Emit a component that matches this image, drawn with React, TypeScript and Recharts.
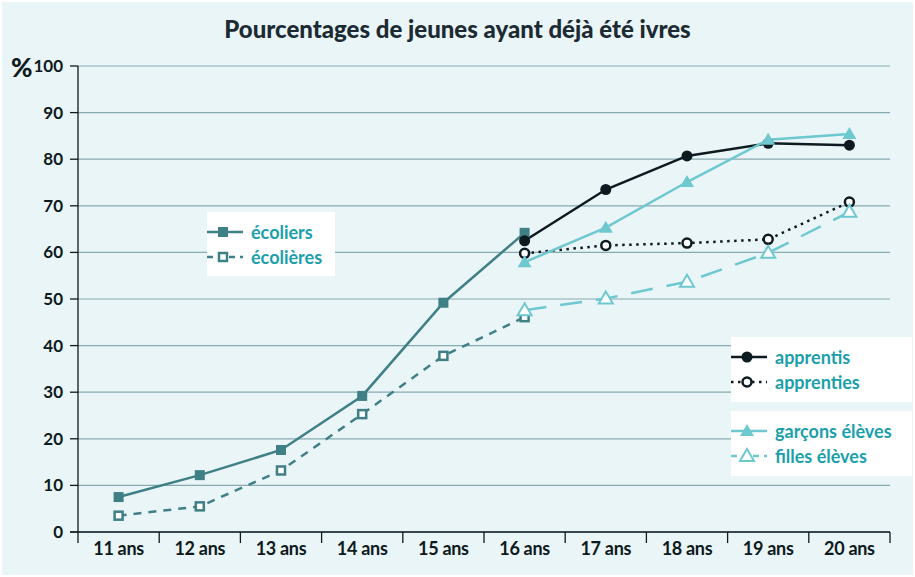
import { LineChart, Line, XAxis, YAxis, CartesianGrid } from "recharts";

const ages = ["11 ans", "12 ans", "13 ans", "14 ans", "15 ans", "16 ans", "17 ans", "18 ans", "19 ans", "20 ans"];
const ecoliers = [7.5, 12.2, 17.6, 29.2, 49.2, 64.2, null, null, null, null];
const ecolieres = [3.5, 5.5, 13.2, 25.3, 37.8, 46.1, null, null, null, null];
const apprentis = [null, null, null, null, null, 62.5, 73.5, 80.7, 83.4, 83.0];
const apprenties = [null, null, null, null, null, 59.8, 61.5, 62.0, 62.8, 70.8];
const garconsEleves = [null, null, null, null, null, 57.9, 65.3, 75.1, 84.2, 85.4];
const fillesEleves = [null, null, null, null, null, 47.6, 50.1, 53.7, 59.9, 68.7];
const yTicks = [0, 10, 20, 30, 40, 50, 60, 70, 80, 90, 100];

const data = ages.map((age, i) => ({
  x: i + 0.5,
  age,
  ecoliers: ecoliers[i],
  ecolieres: ecolieres[i],
  apprentis: apprentis[i],
  apprenties: apprenties[i],
  garcons: garconsEleves[i],
  filles: fillesEleves[i],
}));

const xTicks = ages.flatMap((_, i) => [i, i + 0.5]).concat([ages.length]);

const TEAL = "#3f7f86";
const DARK = "#0d1a20";
const CYAN = "#6ec8d0";
const TEXT = "#1a9fab";
const FONT = "Lato, 'Open Sans', sans-serif";

type Kind = "sq" | "sqo" | "ci" | "cio" | "tri" | "trio";

function Marker({ cx, cy, kind }: { cx: number; cy: number; kind: Kind }) {
  if (kind === "sq") return <rect x={cx - 5} y={cy - 5} width={10} height={10} fill={TEAL} />;
  if (kind === "sqo")
    return <rect x={cx - 4} y={cy - 4} width={8} height={8} fill="#fff" stroke={TEAL} strokeWidth={2.5} />;
  if (kind === "ci") return <circle cx={cx} cy={cy} r={5.5} fill={DARK} />;
  if (kind === "cio") return <circle cx={cx} cy={cy} r={4.5} fill="#fff" stroke={DARK} strokeWidth={2.5} />;
  const pts = `${cx},${cy - 7} ${cx - 7},${cy + 5} ${cx + 7},${cy + 5}`;
  if (kind === "tri") return <polygon points={pts} fill={CYAN} />;
  return <polygon points={pts} fill="#fff" stroke={CYAN} strokeWidth={2} />;
}

const dotFor = (kind: Kind) => (props: any) => {
  const { cx, cy, value, index } = props;
  if (cy == null || value == null || isNaN(cy)) return <g key={`n-${kind}-${index}`} />;
  return (
    <g key={`d-${kind}-${index}`}>
      <Marker cx={cx} cy={cy} kind={kind} />
    </g>
  );
};

function XTick(props: any) {
  const { x, y, payload } = props;
  const v = payload.value as number;
  if (Number.isInteger(v)) {
    return (
      <g>
        <line x1={x} y1={y} x2={x} y2={y + 11} stroke={DARK} strokeWidth={1.3} />
        {v === 0 && <line x1={x - 8} y1={y} x2={x} y2={y} stroke={DARK} strokeWidth={1.3} />}
      </g>
    );
  }
  return (
    <text x={x} y={y + 23} textAnchor="middle" fontSize={18} fontWeight={700} fill={DARK} fontFamily={FONT} letterSpacing={-0.3}>
      {ages[Math.floor(v)]}
    </text>
  );
}

function LegendRow({ label, color, dash, kind, width = 2.5 }: { label: string; color: string; dash?: string; kind: Kind; width?: number }) {
  return (
    <div style={{ display: "flex", alignItems: "center", height: 25 }}>
      <svg width={36} height={20} style={{ flex: "none" }}>
        <line x1={0} y1={10} x2={36} y2={10} stroke={color} strokeWidth={width} strokeDasharray={dash} />
        <Marker cx={16} cy={10} kind={kind} />
      </svg>
      <span style={{ marginLeft: 8, color: TEXT, fontWeight: 700, fontSize: 18, fontFamily: FONT, whiteSpace: "nowrap" }}>{label}</span>
    </div>
  );
}

export default function App() {
  return (
    <div style={{ position: "absolute", left: 0, top: 0, width: 915, height: 577, background: "#fff" }}>
      <div style={{ position: "absolute", left: 2, top: 2, width: 911, height: 573, background: "#eaf5f7" }} />
      <div
        style={{
          position: "absolute",
          left: 0,
          top: 14,
          width: 915,
          textAlign: "center",
          fontFamily: FONT,
          fontWeight: 900,
          fontSize: 24,
          color: "#1b2a33",
        }}
      >
        Pourcentages de jeunes ayant déjà été ivres
      </div>
      <div style={{ position: "absolute", left: 11, top: 51, fontFamily: FONT, fontWeight: 900, fontSize: 26, color: DARK }}>%</div>
      <div style={{ position: "absolute", left: 0, top: 0 }}>
        <LineChart width={915} height={577} data={data} margin={{ top: 66, right: 25, bottom: 5, left: 0 }}>
          <CartesianGrid vertical={false} stroke="#86abb0" strokeWidth={1.2} />
          <XAxis
            dataKey="x"
            type="number"
            domain={[0, 10]}
            ticks={xTicks}
            interval={0}
            tick={<XTick />}
            tickLine={false}
            tickSize={0}
            tickMargin={0}
            height={40}
            axisLine={{ stroke: DARK, strokeWidth: 1.3 }}
          />
          <YAxis
            domain={[0, 100]}
            ticks={yTicks}
            interval={0}
            width={78}
            tickSize={8}
            tickMargin={7}
            axisLine={{ stroke: DARK, strokeWidth: 1.3 }}
            tickLine={{ stroke: DARK, strokeWidth: 1.3 }}
            tick={{ fill: DARK, fontSize: 17, fontWeight: 700, fontFamily: FONT }}
          />
          <Line dataKey="ecoliers" stroke={TEAL} strokeWidth={2.5} dot={dotFor("sq")} isAnimationActive={false} />
          <Line dataKey="ecolieres" stroke={TEAL} strokeWidth={2.5} strokeDasharray="8 7" dot={dotFor("sqo")} isAnimationActive={false} />
          <Line dataKey="apprenties" stroke={DARK} strokeWidth={2.5} strokeDasharray="2.5 4.5" dot={dotFor("cio")} isAnimationActive={false} />
          <Line dataKey="filles" stroke={CYAN} strokeWidth={2.5} strokeDasharray="22 14" dot={dotFor("trio")} isAnimationActive={false} />
          <Line dataKey="apprentis" stroke={DARK} strokeWidth={2.5} dot={dotFor("ci")} isAnimationActive={false} />
          <Line dataKey="garcons" stroke={CYAN} strokeWidth={2.5} dot={dotFor("tri")} isAnimationActive={false} />
        </LineChart>
      </div>
      <div style={{ position: "absolute", left: 207, top: 212, width: 128, height: 64, background: "#fff", paddingTop: 7, boxSizing: "border-box" }}>
        <LegendRow label="écoliers" color={TEAL} kind="sq" />
        <LegendRow label="écolières" color={TEAL} kind="sqo" dash="6 5" />
      </div>
      <div style={{ position: "absolute", left: 731, top: 337, width: 181, height: 65, background: "#fff", paddingTop: 7, boxSizing: "border-box" }}>
        <LegendRow label="apprentis" color={DARK} kind="ci" />
        <LegendRow label="apprenties" color={DARK} kind="cio" dash="2.5 4.5" />
      </div>
      <div style={{ position: "absolute", left: 731, top: 411, width: 181, height: 65, background: "#fff", paddingTop: 7, boxSizing: "border-box" }}>
        <LegendRow label="garçons élèves" color={CYAN} kind="tri" />
        <LegendRow label="filles élèves" color={CYAN} kind="trio" dash="6 5" />
      </div>
    </div>
  );
}
